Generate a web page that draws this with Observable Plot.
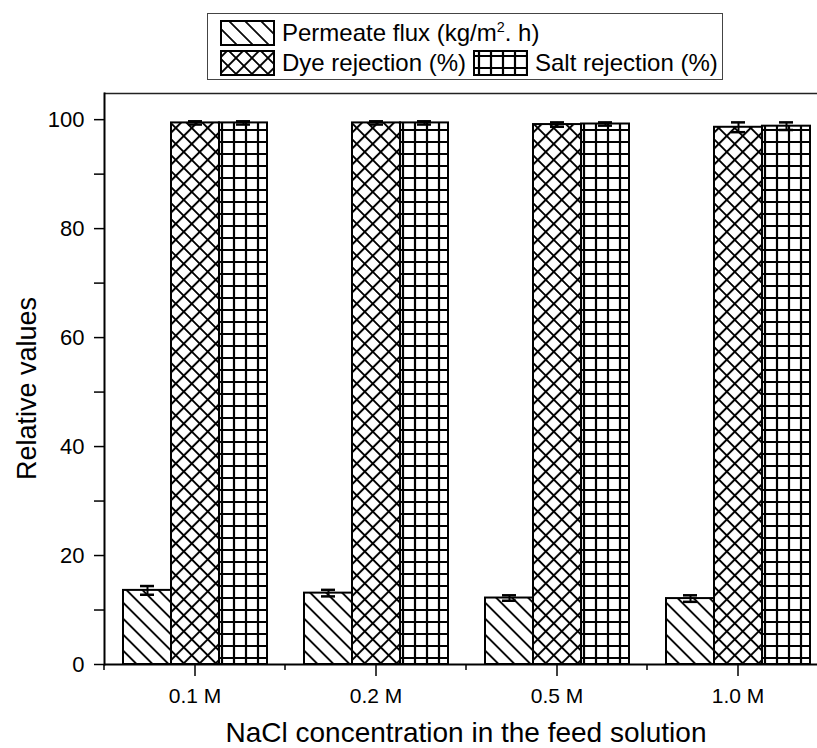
<!DOCTYPE html>
<html><head><meta charset="utf-8">
<script src="https://cdn.jsdelivr.net/npm/d3@7"></script>
<script src="https://cdn.jsdelivr.net/npm/@observablehq/plot@0.6"></script>
<style>
html,body{margin:0;padding:0;background:#fff;overflow:hidden;}
body{font-family:"Liberation Sans",Arial,sans-serif;}
#wrap{position:relative;width:817px;height:748px;}
#legend{position:relative;height:88px;width:817px;}
#legend .box{position:absolute;left:207px;top:13px;width:516px;height:67px;border:1.5px solid #444;box-sizing:border-box;}
.item{position:absolute;display:flex;align-items:center;height:26px;font-size:24px;color:#000;white-space:nowrap;}
.item svg{margin-right:7px;flex:none;}
</style></head><body>
<svg width="0" height="0" style="position:absolute">
<defs>
 <pattern id="pat-flux" patternUnits="userSpaceOnUse" width="11.3" height="11.3" patternTransform="rotate(-45)">
  <rect width="11.3" height="11.3" fill="#fff"/>
  <line x1="5.65" y1="-1" x2="5.65" y2="12.3" stroke="#000" stroke-width="1.8"/>
 </pattern>
 <pattern id="pat-dye" patternUnits="userSpaceOnUse" width="11.3" height="11.3" patternTransform="rotate(45)">
  <rect width="11.3" height="11.3" fill="#fff"/>
  <path d="M5.65,-1V12.3M-1,5.65H12.3" stroke="#000" stroke-width="2"/>
 </pattern>
 <pattern id="pat-salt" patternUnits="userSpaceOnUse" width="12" height="12">
  <rect width="12" height="12" fill="#fff"/>
  <path d="M6,-1V13M-1,6H13" stroke="#000" stroke-width="2.2"/>
 </pattern>
</defs></svg>
<div id="wrap">
 <div id="legend"><div class="box"></div></div>
 <div id="chart"></div>
</div>
<script>
const categories = ["0.1 M", "0.2 M", "0.5 M", "1.0 M"];
const series = ["Permeate flux (kg/m². h)", "Dye rejection (%)", "Salt rejection (%)"];
const flux = [13.6, 13.1, 12.2, 12.1];
const fluxErr = [0.8, 0.6, 0.5, 0.6];
const dye = [99.4, 99.4, 99.1, 98.6];
const dyeErr = [0.3, 0.3, 0.4, 0.9];
const salt = [99.4, 99.4, 99.2, 98.8];
const saltErr = [0.3, 0.3, 0.3, 0.7];
const yTicks = [0, 20, 40, 60, 80, 100];
const yMinor = [10, 30, 50, 70, 90];
const yMax = 104.8;
const xTitle = "NaCl concentration in the feed solution";
const yTitle = "Relative values";
const patterns = ["url(#pat-flux)", "url(#pat-dye)", "url(#pat-salt)"];

const data = categories.flatMap((c, i) => [
  {conc: c, series: series[0], value: flux[i], err: fluxErr[i]},
  {conc: c, series: series[1], value: dye[i], err: dyeErr[i]},
  {conc: c, series: series[2], value: salt[i], err: saltErr[i]}
]);

// legend
const legendItems = [
  {s: 0, left: 220, top: 20},
  {s: 1, left: 220, top: 50},
  {s: 2, left: 473, top: 50}
];
const legend = document.getElementById("legend");
legendItems.forEach(it => {
  const div = document.createElement("div");
  div.className = "item";
  div.style.left = it.left + "px";
  div.style.top = it.top + "px";
  const label = it.s === 0
    ? 'Permeate flux (kg/m<sup style="font-size:60%;vertical-align:9px">2</sup>. h)'
    : series[it.s];
  div.innerHTML = `<svg width="55" height="26"><rect x="1" y="1" width="53" height="24" fill="${patterns[it.s]}" stroke="#000" stroke-width="2"/></svg><span>${label}</span>`;
  legend.appendChild(div);
});

const plot = Plot.plot({
  width: 817,
  height: 660,
  marginTop: 5,
  marginBottom: 84,
  marginLeft: 104,
  marginRight: -11,
  style: {fontFamily: "Liberation Sans, Arial, sans-serif", fontSize: "21px", color: "#000", background: "#fff"},
  fx: {domain: categories, padding: 0, label: null},
  x: {domain: series, paddingInner: 0, paddingOuter: 0.385, axis: null},
  y: {domain: [0, yMax], axis: null},
  color: {domain: series, range: patterns},
  marks: [
    Plot.barY(data, {fx: "conc", x: "series", y: "value", fill: "series", stroke: "#000", strokeWidth: 2}),
    Plot.ruleX(data, {fx: "conc", x: "series", y1: d => d.value - d.err, y2: d => d.value + d.err, stroke: "#000", strokeWidth: 2}),
    Plot.tickY(data, {fx: "conc", x: "series", y: d => d.value + d.err, insetLeft: 17, insetRight: 17, stroke: "#000", strokeWidth: 2.5}),
    Plot.tickY(data, {fx: "conc", x: "series", y: d => d.value - d.err, insetLeft: 17, insetRight: 17, stroke: "#000", strokeWidth: 2.5}),
    Plot.ruleY([0], {stroke: "#000", strokeWidth: 2}),
    Plot.ruleY([yMax], {stroke: "#222", strokeWidth: 1.5}),
    Plot.frame({anchor: "left", facetAnchor: "left", stroke: "#000", strokeWidth: 2}),
    Plot.axisY({ticks: yTicks, tickSize: 10, tickPadding: 10, fontSize: 22, label: null, strokeWidth: 1.5}),
    Plot.axisY({ticks: yMinor, tickSize: 10, tickFormat: () => "", label: null, strokeWidth: 1.5}),
    Plot.axisFx({anchor: "bottom", tickSize: 12, tickPadding: 12, fontSize: 21, label: null, strokeWidth: 1.5})
  ]
});

document.getElementById("chart").appendChild(plot);

const svg = d3.select(plot);
const fxs = plot.scale("fx");
const ys = plot.scale("y");
const y0 = ys.apply(0);
svg.append("g").selectAll("line").data(categories).join("line")
  .attr("x1", d => fxs.apply(d)).attr("x2", d => fxs.apply(d))
  .attr("y1", y0).attr("y2", y0 + 6)
  .attr("stroke", "#000").attr("stroke-width", 1.5);

const xMid = (fxs.range[0] + fxs.range[1]) / 2;
svg.append("text").text(xTitle)
  .attr("x", xMid).attr("y", y0 + 78)
  .attr("text-anchor", "middle").attr("font-size", 28).attr("fill", "#000");
const yMid = (ys.range[0] + ys.range[1]) / 2 + 10;
svg.append("text").text(yTitle)
  .attr("transform", `translate(29,${yMid}) rotate(-90)`)
  .attr("text-anchor", "middle").attr("dominant-baseline", "middle")
  .attr("font-size", 27).attr("fill", "#000");
</script>
</body></html>
